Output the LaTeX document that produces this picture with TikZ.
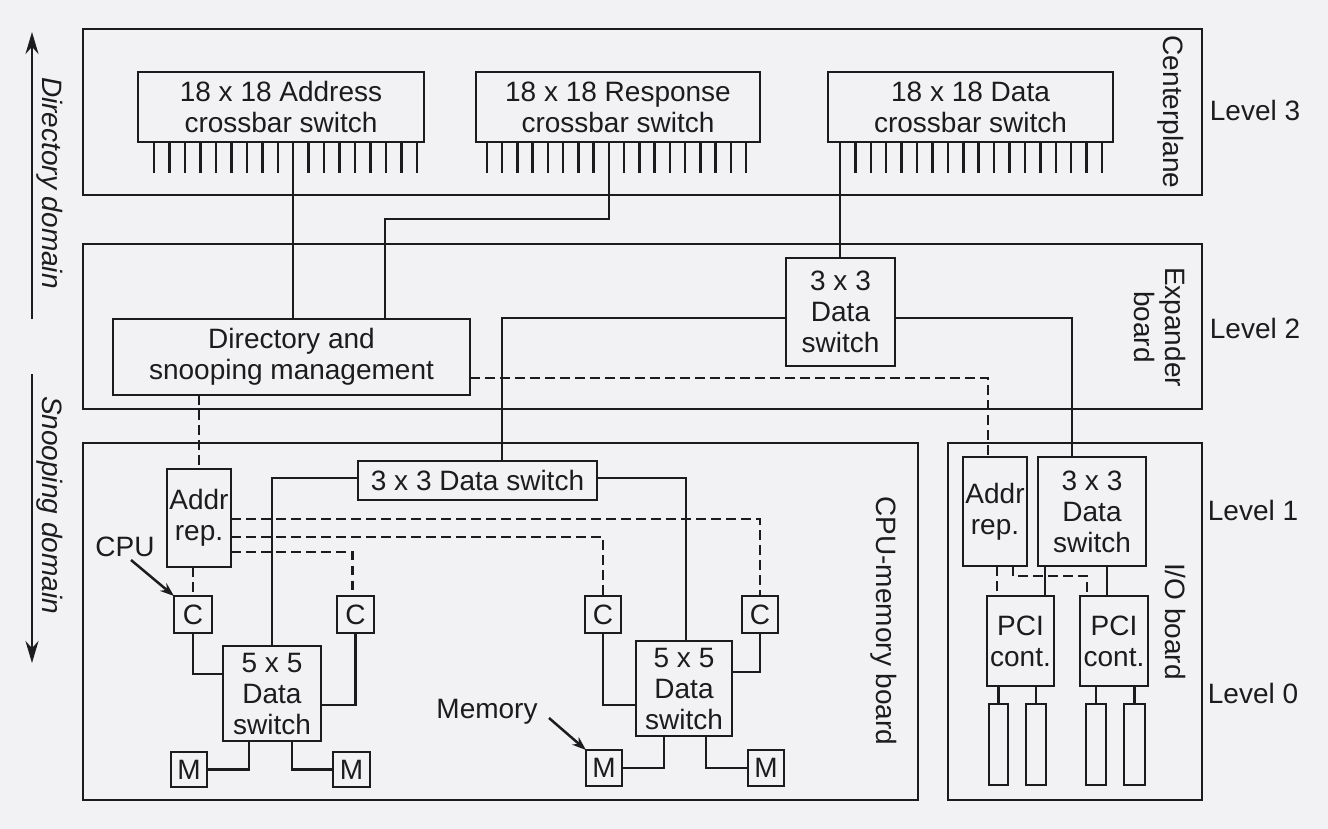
\documentclass[tikz,border=0pt]{standalone}
\usepackage{fontspec}
\setmainfont{Liberation Sans}
\usetikzlibrary{arrows.meta,calc}
\definecolor{bg}{RGB}{242,242,244}
\definecolor{ink}{RGB}{28,28,30}
\begin{document}
\begin{tikzpicture}[x=1pt,y=-1pt,
  box/.style={draw=ink,line width=2.5pt,inner sep=0pt,outer sep=0pt,align=center,text=ink,font=\fontsize{28}{31}\selectfont},
  board/.style={draw=ink,line width=2.5pt,inner sep=0pt,outer sep=0pt},
  wire/.style={draw=ink,line width=2.5pt},
  dwire/.style={wire,dash pattern=on 9.5pt off 5.5pt},
  lbl/.style={inner sep=0pt,text=ink,align=center,font=\fontsize{28}{31}\selectfont},
  rlbl/.style={lbl,rotate=-90},
  bigarr/.style={wire,-{Stealth[length=22pt,width=13pt]}},
  smarr/.style={wire,-{Stealth[length=14pt,width=10pt]}}]
\fill[bg] (0,0) rectangle (1328,829);
\useasboundingbox (0,0) rectangle (1328,829);

% boards
\node[board,minimum width=1119pt,minimum height=166pt] (center) at (642.5,112) {};
\node[board,minimum width=1119pt,minimum height=165pt] (expander) at (642.5,326.5) {};
\node[board,minimum width=835pt,minimum height=357pt] (cpuboard) at (500.5,621.5) {};
\node[board,minimum width=254pt,minimum height=357pt] (ioboard) at (1075,621.5) {};

% crossbars
\node[box,minimum width=286pt,minimum height=70pt] (addrX) at (281,107) {18 x 18 Address\\crossbar switch};
\node[box,minimum width=284pt,minimum height=70pt] (respX) at (618,107) {18 x 18 Response\\crossbar switch};
\node[box,minimum width=285pt,minimum height=70pt] (dataX) at (970.5,107) {18 x 18 Data\\crossbar switch};
\foreach \i in {0,...,17}{
  \draw[wire] ($(addrX.south west)+({16+15.47*\i},0)$) -- ++(0,31);
  \draw[wire] ($(respX.south west)+({11+15.24*\i},0)$) -- ++(0,31);
  \draw[wire] ($(dataX.south west)+({12+15.41*\i},0)$) -- ++(0,31);
}

% level 2
\node[box,minimum width=357pt,minimum height=76pt] (dir) at (291.5,357) {Directory and\\snooping management};
\node[box,minimum width=109pt,minimum height=108pt] (exsw) at (840.5,312) {3 x 3\\Data\\switch};

% level 1 / 0 CPU board
\node[box,minimum width=239pt,minimum height=39pt] (cpusw) at (477.5,480.5) {3 x 3 Data switch};
\node[box,minimum width=64pt,minimum height=98pt] (addrrep) at (199,518) {Addr\\rep.};
\node[box,minimum width=38pt,minimum height=37pt] (C1) at (193,614.5) {C};
\node[box,minimum width=37pt,minimum height=37pt] (C2) at (355.5,614.5) {C};
\node[box,minimum width=36pt,minimum height=37pt] (C3) at (603,614.5) {C};
\node[box,minimum width=36pt,minimum height=37pt] (C4) at (760,614.5) {C};
\node[box,minimum width=98pt,minimum height=95pt] (sw5L) at (272,693.5) {5 x 5\\Data\\switch};
\node[box,minimum width=96pt,minimum height=95pt] (sw5R) at (684,688.5) {5 x 5\\Data\\switch};
\node[box,minimum width=36pt,minimum height=35pt] (M1) at (189,769.5) {M};
\node[box,minimum width=37pt,minimum height=35pt] (M2) at (351.5,769.5) {M};
\node[box,minimum width=36pt,minimum height=36pt] (M3) at (604,768) {M};
\node[box,minimum width=36pt,minimum height=36pt] (M4) at (766,768) {M};

% IO board
\node[box,minimum width=64pt,minimum height=109pt] (ioaddr) at (995,511.5) {Addr\\rep.};
\node[box,minimum width=108pt,minimum height=109pt] (iosw) at (1092,511.5) {3 x 3\\Data\\switch};
\node[box,minimum width=67pt,minimum height=90pt] (pci1) at (1020.5,641) {PCI\\cont.};
\node[box,minimum width=68pt,minimum height=90pt] (pci2) at (1114,641) {PCI\\cont.};
\node[box,minimum width=19pt,minimum height=81pt] (slot1) at (998.5,744.5) {};
\node[box,minimum width=20pt,minimum height=81pt] (slot2) at (1036,744.5) {};
\node[box,minimum width=20pt,minimum height=81pt] (slot3) at (1096,744.5) {};
\node[box,minimum width=21pt,minimum height=81pt] (slot4) at (1134.5,744.5) {};

% labels
\node[rlbl] (lcenter) at (1171,112) {Centerplane};
\node[rlbl] (lexp) at (1160,327) {Expander\\board};
\node[rlbl] (lcpub) at (884,621) {CPU-memory board};
\node[rlbl] (liob) at (1175,621.5) {I/O board};
\node[lbl] (lv3) at (1255,110) {Level 3};
\node[lbl] (lv2) at (1255,328) {Level 2};
\node[lbl] (lv1) at (1253,510) {Level 1};
\node[lbl] (lv0) at (1253,693) {Level 0};
\node[lbl] (cpulbl) at (125,547) {CPU};
\node[lbl] (memlbl) at (487,712) {Memory};
\node[rlbl,font=\fontsize{28}{31}\selectfont\itshape] (ddom) at (50,183) {Directory domain};
\node[rlbl,font=\fontsize{28}{31}\selectfont\itshape] (sdom) at (50,505) {Snooping domain};

% domain arrows
\coordinate (dTop) at (32,32);
\coordinate (dMid1) at (32,319);
\coordinate (dMid2) at (32,374);
\coordinate (dBot) at (32,663);
\draw[bigarr] (dMid1) -- (dTop);
\draw[bigarr] (dMid2) -- (dBot);

% pointer arrows
\coordinate (cpuA) at (131,560);
\draw[smarr] (cpuA) -- (C1.north west);
\coordinate (memA) at (549,718);
\draw[smarr] (memA) -- (M3.north west);

% crossbar connectors
\coordinate (pA) at ($(addrX.south west)+(155.2,0)$);
\draw[wire] (pA) -- (pA |- dir.north);
\coordinate (pR) at ($(respX.south west)+(132.9,0)$);
\draw[wire] (pR) -- ++(0,77) -| ($(dir.north west)+(272,0)$);
\coordinate (pD) at ($(dataX.south west)+(12,0)$);
\draw[wire] (pD) -- (pD |- exsw.north);

% expander switch connectors
\draw[wire] ($(exsw.west)+(0,6)$) -| ($(cpusw.north)+(24.5,0)$);
\draw[wire] ($(exsw.east)+(0,6)$) -| ($(iosw.north)+(-20,0)$);
\draw[dwire] ($(dir.east)+(0,21)$) -| ($(ioaddr.north)+(-7,0)$);
\draw[dwire] (addrrep.north |- dir.south) -- (addrrep.north);

% CPU board
\draw[wire] ($(cpusw.west)+(0,-2.5)$) -| (sw5L.north);
\draw[wire] ($(cpusw.east)+(0,-2.5)$) -| ($(sw5R.north)+(2,0)$);
\draw[dwire] ($(addrrep.east)+(0,1)$) -| (C4.north);
\draw[dwire] ($(addrrep.east)+(0,19)$) -| (C3.north);
\draw[dwire] ($(addrrep.east)+(0,34)$) -| ($(C2.north)+(-3,0)$);
\draw[dwire] (C1.north |- addrrep.south) -- (C1.north);
\draw[wire] (C1.south) |- ($(sw5L.west)+(0,-19.5)$);
\draw[wire] (C2.south) |- ($(sw5L.east)+(0,11.5)$);
\draw[wire] (C3.south) |- ($(sw5R.west)+(0,16.5)$);
\draw[wire] (C4.south) |- ($(sw5R.east)+(0,-16.5)$);
\draw[wire] ($(sw5L.south)+(-23,0)$) |- (M1.east);
\draw[wire] ($(sw5L.south)+(20,0)$) |- (M2.west);
\draw[wire] ($(sw5R.south)+(-20,0)$) |- (M3.east);
\draw[wire] ($(sw5R.south)+(22,0)$) |- (M4.west);

% IO board
\draw[dwire] ($(ioaddr.south)+(2,0)$) -- ($(pci1.north)+(-23.5,0)$);
\draw[dwire] ($(ioaddr.south)+(18,0)$) -- ++(0,10) -| ($(pci2.north)+(-27,0)$);
\draw[wire] ($(iosw.south)+(-47,0)$) -- ($(pci1.north)+(24.5,0)$);
\draw[wire] ($(iosw.south)+(15,0)$) -- ($(pci2.north)+(-7,0)$);
\draw[wire] (slot1.north) -- (slot1.north |- pci1.south);
\draw[wire] (slot2.north) -- (slot2.north |- pci1.south);
\draw[wire] (slot3.north) -- (slot3.north |- pci2.south);
\draw[wire] (slot4.north) -- (slot4.north |- pci2.south);
\end{tikzpicture}
\end{document}
